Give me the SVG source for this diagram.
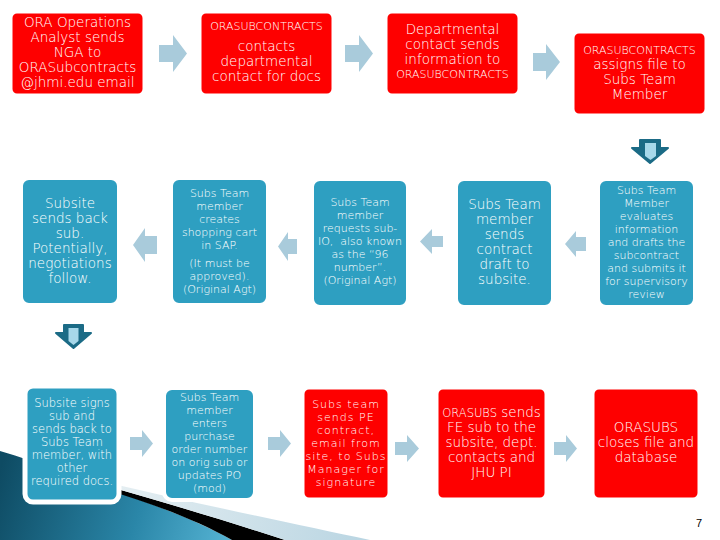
<svg xmlns="http://www.w3.org/2000/svg" width="720" height="540" viewBox="0 0 720 540">
<defs>
<linearGradient id="teal" x1="0" y1="470" x2="230" y2="540" gradientUnits="userSpaceOnUse">
<stop offset="0" stop-color="#0e4b63"/><stop offset="0.6" stop-color="#2a86a8"/><stop offset="1" stop-color="#55b3d3"/>
</linearGradient>
<linearGradient id="pale" x1="100" y1="480" x2="370" y2="540" gradientUnits="userSpaceOnUse">
<stop offset="0" stop-color="#e8f0f3"/><stop offset="1" stop-color="#b9d5e2"/>
</linearGradient>
<style>
.red{fill:#fe0000;stroke:#fff;stroke-width:3}
.tl{fill:#2e9fc1;stroke:#fff;stroke-width:4}
text{font-family:"DejaVu Sans","Liberation Sans",sans-serif;font-weight:200;fill:#fff;text-anchor:middle}
.b{font-size:13.5px}
.s{font-size:11px}
.h{font-size:11px;letter-spacing:1px}
.arr{fill:#a9cbdb}
.dn{fill:#1b6b86;stroke:#1b6b86;stroke-width:2;stroke-linejoin:round}
.dni{fill:#a7d8ea}
.pg{fill:#000;font-size:11px;font-weight:400;font-family:"Liberation Sans",sans-serif}
</style>
</defs>
<g id="background">
<path d="M0,451 C40,463 80,477 107,489 C160,506 200,522 232,540 L0,540 Z" fill="url(#teal)"/>
<path d="M107,486 C170,504 230,522 285,540 L232,540 C200,522 160,506 107,490 Z" fill="#000"/>
<path d="M100,481 C190,502 290,523 370,540 L285,540 C230,522 170,504 107,486 Z" fill="url(#pale)"/>
</g>
<g id="connectors">
<path class="arr" d="M159,45 H173 V35 L187,53.5 L173,72 V62 H159 Z"/>
<path class="arr" d="M345,45 H359 V35 L373,53.5 L359,72 V62 H345 Z"/>
<path class="arr" d="M533,53 H546 V44 L560,62 L546,80 V71 H533 Z"/>
<path class="dn" d="M640,140 H660 V148 H668 L650,163 L632,148 H640 Z"/>
<path class="dni" d="M645,143 H656 V156 L650.5,160 L645,156 Z"/>
<path class="arr" d="M586,237 H576 V231 L565,244 L576,257 V251 H586 Z"/>
<path class="arr" d="M443,236 H432 V229 L420,241.5 L432,254 V247 H443 Z"/>
<path class="arr" d="M297,239 H288 V232 L278,246.5 L288,261 V254 H297 Z"/>
<path class="arr" d="M157,236 H145 V228 L133,245 L145,262 V254 H157 Z"/>
<path class="dn" d="M64,325 H83 V333 H91 L73.5,348 L56,333 H64 Z"/>
<path class="dni" d="M68.5,328 H78.5 V341 L73.5,345 L68.5,341 Z"/>
<path class="arr" d="M130,437 H142 V430 L153,443.5 L142,457 V450 H130 Z"/>
<path class="arr" d="M268,437 H280 V430 L291,443.5 L280,457 V450 H268 Z"/>
<path class="arr" d="M395,442 H407 V435 L419,448.5 L407,462 V455 H395 Z"/>
<path class="arr" d="M554,442 H566 V435 L577,448.5 L566,462 V455 H554 Z"/>
</g>
<g id="n1"><rect class="red" x="11" y="12" width="133" height="83" rx="6"/>
<text class="b"><tspan x="77.5" y="27">ORA Operations</tspan><tspan x="77.5" y="42">Analyst sends</tspan><tspan x="77.5" y="57">NGA to</tspan><tspan x="77.5" y="72">ORASubcontracts</tspan><tspan x="77.5" y="87">@jhmi.edu email</tspan></text></g>
<g id="n2"><rect class="red" x="200" y="12" width="133" height="83" rx="6"/>
<text class="s" x="266.5" y="30">ORASUBCONTRACTS</text>
<text class="b"><tspan x="266.5" y="51">contacts</tspan><tspan x="266.5" y="66">departmental</tspan><tspan x="266.5" y="81">contact for docs</tspan></text></g>
<g id="n3"><rect class="red" x="386" y="12" width="133" height="83" rx="6"/>
<text class="b"><tspan x="452.5" y="34">Departmental</tspan><tspan x="452.5" y="49">contact sends</tspan><tspan x="452.5" y="64">information to</tspan></text>
<text class="s" x="452.5" y="78">ORASUBCONTRACTS</text></g>
<g id="n4"><rect class="red" x="573" y="32" width="133" height="83" rx="6"/>
<text class="s" x="639.5" y="54">ORASUBCONTRACTS</text>
<text class="b"><tspan x="639.5" y="69">assigns file to</tspan><tspan x="639.5" y="84">Subs Team</tspan><tspan x="639.5" y="99">Member</tspan></text></g>
<g id="n5"><rect class="tl" x="598" y="179" width="97" height="128" rx="8"/>
<text class="s"><tspan x="646.5" y="194">Subs Team</tspan><tspan x="646.5" y="207">Member</tspan><tspan x="646.5" y="220">evaluates</tspan><tspan x="646.5" y="233">information</tspan><tspan x="646.5" y="246">and drafts the</tspan><tspan x="646.5" y="259">subcontract</tspan><tspan x="646.5" y="272">and submits it</tspan><tspan x="646.5" y="285">for supervisory</tspan><tspan x="646.5" y="298">review</tspan></text></g>
<g id="n6"><rect class="tl" x="456" y="179" width="97" height="128" rx="8"/>
<text class="b"><tspan x="504.5" y="209">Subs Team</tspan><tspan x="504.5" y="224">member</tspan><tspan x="504.5" y="239">sends</tspan><tspan x="504.5" y="254">contract</tspan><tspan x="504.5" y="269">draft to</tspan><tspan x="504.5" y="284">subsite.</tspan></text></g>
<g id="n7"><rect class="tl" x="312" y="179" width="96" height="128" rx="8"/>
<text class="s"><tspan x="360" y="206">Subs Team</tspan><tspan x="360" y="219">member</tspan><tspan x="360" y="232">requests sub-</tspan><tspan x="360" y="245">IO,&#160; also known</tspan><tspan x="360" y="258">as the “96</tspan><tspan x="360" y="271">number”.</tspan><tspan x="360" y="284">(Original Agt)</tspan></text></g>
<g id="n8"><rect class="tl" x="171" y="178" width="97" height="127" rx="8"/>
<text class="s"><tspan x="219.5" y="197">Subs Team</tspan><tspan x="219.5" y="210">member</tspan><tspan x="219.5" y="223">creates</tspan><tspan x="219.5" y="236">shopping cart</tspan><tspan x="219.5" y="249">in SAP.</tspan><tspan x="219.5" y="267">(It must be</tspan><tspan x="219.5" y="280">approved).</tspan><tspan x="219.5" y="293">(Original Agt)</tspan></text></g>
<g id="n9"><rect class="tl" x="21" y="178" width="98" height="127" rx="8"/>
<text class="b"><tspan x="70" y="208">Subsite</tspan><tspan x="70" y="223">sends back</tspan><tspan x="70" y="238">sub.</tspan><tspan x="70" y="253">Potentially,</tspan><tspan x="70" y="268">negotiations</tspan><tspan x="70" y="283">follow.</tspan></text></g>
<g id="n10"><rect class="tl" x="25" y="386" width="94" height="116" rx="8" style="stroke-width:5"/>
<text style="font-size:11.5px"><tspan x="72" y="407">Subsite signs</tspan><tspan x="72" y="420">sub and</tspan><tspan x="72" y="433">sends back to</tspan><tspan x="72" y="446">Subs Team</tspan><tspan x="72" y="459">member, with</tspan><tspan x="72" y="472">other</tspan><tspan x="72" y="485">required docs.</tspan></text></g>
<g id="n11"><rect class="tl" x="164" y="388" width="91" height="112" rx="8"/>
<text class="s"><tspan x="209.5" y="401">Subs Team</tspan><tspan x="209.5" y="414">member</tspan><tspan x="209.5" y="427">enters</tspan><tspan x="209.5" y="440">purchase</tspan><tspan x="209.5" y="453">order number</tspan><tspan x="209.5" y="466">on orig sub or</tspan><tspan x="209.5" y="479">updates PO</tspan><tspan x="209.5" y="492">(mod)</tspan></text></g>
<g id="n12"><rect class="red" x="303" y="388" width="86" height="111" rx="6"/>
<text class="h"><tspan x="346" y="408">Subs team</tspan><tspan x="346" y="421">sends PE</tspan><tspan x="346" y="434">contract,</tspan><tspan x="346" y="447">email from</tspan><tspan x="346" y="460">site, to Subs</tspan><tspan x="346" y="473">Manager for</tspan><tspan x="346" y="486">signature</tspan></text></g>
<g id="n13"><rect class="red" x="437" y="388" width="109" height="111" rx="6"/>
<text class="b"><tspan x="491.5" y="417"><tspan style="font-size:11.5px">ORASUBS</tspan> sends</tspan><tspan x="491.5" y="432">FE sub to the</tspan><tspan x="491.5" y="447">subsite, dept.</tspan><tspan x="491.5" y="462">contacts and</tspan><tspan x="491.5" y="477">JHU PI</tspan></text></g>
<g id="n14"><rect class="red" x="593" y="388" width="106" height="111" rx="6"/>
<text class="b"><tspan x="646" y="432">ORASUBS</tspan><tspan x="646" y="447">closes file and</tspan><tspan x="646" y="462">database</tspan></text></g>
<text class="pg" x="699" y="527">7</text>
</svg>
